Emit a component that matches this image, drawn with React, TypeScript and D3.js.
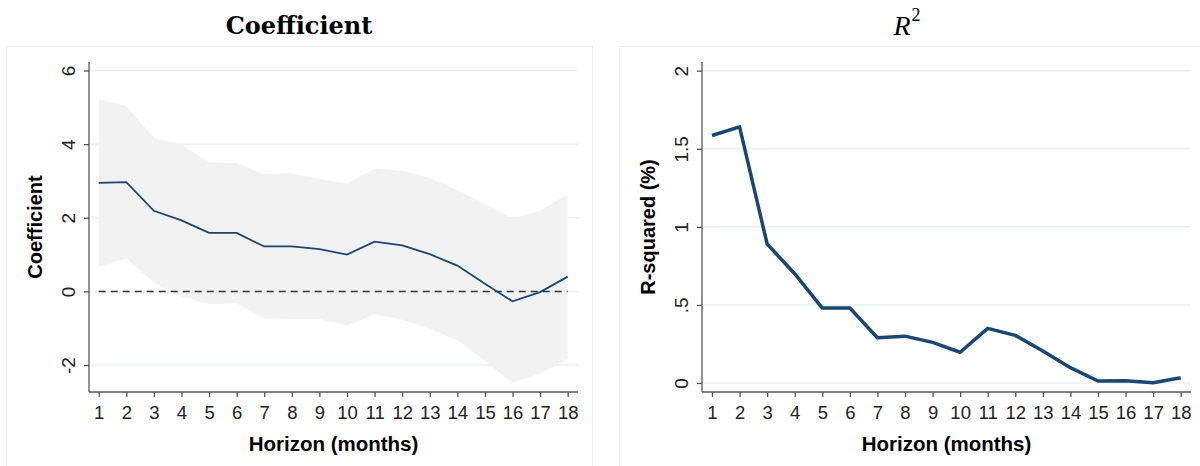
import React from 'react'
import { useEffect, useRef } from 'react'
import * as d3 from 'd3'

// horizon in months
const horizons = [1, 2, 3, 4, 5, 6, 7, 8, 9, 10, 11, 12, 13, 14, 15, 16, 17, 18]

// left panel: point estimate and 95% band
const coef = [2.95, 2.97, 2.19, 1.93, 1.59, 1.59, 1.22, 1.22, 1.15, 1.0, 1.35, 1.25, 1.01, 0.7, 0.21, -0.27, -0.02, 0.4]
const coefUpper = [5.22, 5.03, 4.17, 3.99, 3.51, 3.48, 3.18, 3.2, 3.05, 2.93, 3.33, 3.28, 3.08, 2.75, 2.36, 1.98, 2.19, 2.64]
const coefLower = [0.66, 0.91, 0.24, -0.13, -0.35, -0.32, -0.73, -0.75, -0.75, -0.93, -0.63, -0.77, -1.02, -1.33, -1.88, -2.48, -2.24, -1.83]

// right panel: R-squared in percent
const rsq = [1.585, 1.64, 0.89, 0.7, 0.48, 0.48, 0.29, 0.3, 0.26, 0.197, 0.35, 0.305, 0.205, 0.098, 0.013, 0.015, 0.002, 0.034]

const coefTicks = [-2, 0, 2, 4, 6]
const rsqTicks = [0, 0.5, 1, 1.5, 2]
const rsqTickLabels = ['0', '.5', '1', '1.5', '2']

const W = 1200
const H = 466
const sans = '"Liberation Sans", Arial, sans-serif'
const navy = '#1a476f'
const gridColor = '#eaf1f3'

const App = () => {
  const ref = useRef<SVGSVGElement>(null)

  useEffect(() => {
    drawChart()
  }, [])

  function drawPanel(svg, opts) {
    const { box, plot, yDomain, ticks, tickLabels, yTitle, title, italic } = opts

    // faint panel frame
    svg.append('rect')
      .attr('x', box.x0 + 0.5).attr('y', box.y0 + 0.5)
      .attr('width', box.x1 - box.x0).attr('height', box.y1 - box.y0)
      .attr('fill', 'none').attr('stroke', '#eeeeee').attr('stroke-width', 1)

    const x = d3.scaleLinear().domain([1, 18]).range([plot.x1, plot.x18])
    const y = d3.scaleLinear().domain(yDomain).range(plot.yRange)

    const g = svg.append('g')

    // grid
    g.selectAll('.grid')
      .data(ticks)
      .enter()
      .append('line')
      .attr('x1', plot.left).attr('x2', plot.right)
      .attr('y1', (d) => y(d)).attr('y2', (d) => y(d))
      .attr('stroke', gridColor).attr('stroke-width', 1.5)

    opts.drawMarks(g, x, y)

    // y axis
    const yAxis = g.append('g').attr('transform', `translate(${plot.left},0)`)
      .call(d3.axisLeft(y).tickValues(ticks).tickSize(5).tickFormat((d, i) => tickLabels[i]))
    yAxis.select('.domain').attr('d', `M0,${plot.top}V${plot.bottom}`).attr('stroke', '#555').attr('stroke-width', 1.3)
    yAxis.selectAll('.tick line').attr('stroke', '#555').attr('stroke-width', 1.3)
    yAxis.selectAll('.tick text')
      .attr('x', null).attr('dy', null)
      .attr('transform', 'translate(-21,0) rotate(-90)')
      .attr('text-anchor', 'middle')
      .attr('dominant-baseline', 'central')
      .style('font-family', sans).style('font-size', '19px').style('fill', '#222')

    // x axis
    const xAxis = g.append('g').attr('transform', `translate(0,${plot.bottom})`)
      .call(d3.axisBottom(x).tickValues(horizons).tickSize(5).tickFormat(d3.format('d')))
    xAxis.select('.domain').attr('d', `M${plot.left},0H${plot.right}`).attr('stroke', '#555').attr('stroke-width', 1.3)
    xAxis.selectAll('.tick line').attr('stroke', '#555').attr('stroke-width', 1.3)
    xAxis.selectAll('.tick text')
      .attr('y', 20).attr('dy', null)
      .attr('dominant-baseline', 'central')
      .style('font-family', sans).style('font-size', '18.5px').style('fill', '#222')

    // axis titles
    svg.append('text')
      .attr('transform', `translate(${plot.yTitleX},${(plot.top + plot.bottom) / 2}) rotate(-90)`)
      .attr('text-anchor', 'middle').attr('dominant-baseline', 'central')
      .style('font-family', sans).style('font-size', '20px').style('font-weight', 'bold')
      .text(yTitle)

    svg.append('text')
      .attr('x', (plot.left + plot.right) / 2).attr('y', 443)
      .attr('text-anchor', 'middle').attr('dominant-baseline', 'central')
      .style('font-family', sans).style('font-size', '20.5px').style('font-weight', 'bold')
      .text('Horizon (months)')

    // panel title
    const t = svg.append('text')
      .attr('x', opts.titleX).attr('y', 25)
      .attr('text-anchor', 'middle').attr('dominant-baseline', 'central')
    if (italic) {
      t.style('font-family', '"Liberation Serif", "DejaVu Serif", serif').style('font-size', '28px')
      t.append('tspan').style('font-style', 'italic').text('R')
      t.append('tspan').attr('dy', -10).attr('dx', 1).style('font-size', '18px').text('2')
    } else {
      t.style('font-family', '"DejaVu Serif", serif').style('font-size', '24px')
        .style('font-weight', 'bold').text(title)
    }
  }

  function drawChart() {
    const svg = d3.select(ref.current)
    svg.selectAll('*').remove()

    drawPanel(svg, {
      box: { x0: 6, y0: 46, x1: 592, y1: 470 },
      plot: { left: 89, right: 578, top: 62, bottom: 392, x1: 98.7, x18: 567.7, yRange: [365, 70.5], yTitleX: 35 },
      yDomain: [-2, 6],
      ticks: coefTicks,
      tickLabels: coefTicks.map(String),
      yTitle: 'Coefficient',
      title: 'Coefficient',
      titleX: 299,
      drawMarks: (g, x, y) => {
        const area = d3.area<number>()
          .x((d, i) => x(horizons[i]))
          .y0((d, i) => y(coefLower[i]))
          .y1((d, i) => y(coefUpper[i]))
        g.append('path').datum(coef).attr('d', area).attr('fill', '#f2f2f2')

        g.append('line')
          .attr('x1', x(1)).attr('x2', x(18))
          .attr('y1', y(0)).attr('y2', y(0))
          .attr('stroke', '#333').attr('stroke-width', 1.5).attr('stroke-dasharray', '7,5')

        const line = d3.line<number>().x((d, i) => x(horizons[i])).y((d) => y(d))
        g.append('path').datum(coef).attr('d', line)
          .attr('fill', 'none').attr('stroke', navy).attr('stroke-width', 1.8)
      }
    })

    drawPanel(svg, {
      box: { x0: 619, y0: 46, x1: 1210, y1: 470 },
      plot: { left: 702, right: 1191, top: 62, bottom: 392, x1: 712, x18: 1180.7, yRange: [383, 70.7], yTitleX: 648 },
      yDomain: [0, 2],
      ticks: rsqTicks,
      tickLabels: rsqTickLabels,
      yTitle: 'R-squared (%)',
      titleX: 907,
      italic: true,
      drawMarks: (g, x, y) => {
        const line = d3.line<number>().x((d, i) => x(horizons[i])).y((d) => y(d))
        g.append('path').datum(rsq).attr('d', line)
          .attr('fill', 'none').attr('stroke', navy).attr('stroke-width', 3.5)
          .attr('stroke-linejoin', 'round')
      }
    })
  }

  return (
    <svg ref={ref} width={W} height={H} style={{ display: 'block', position: 'absolute', left: 0, top: 0, background: '#fff' }} />
  )
}

export default App
